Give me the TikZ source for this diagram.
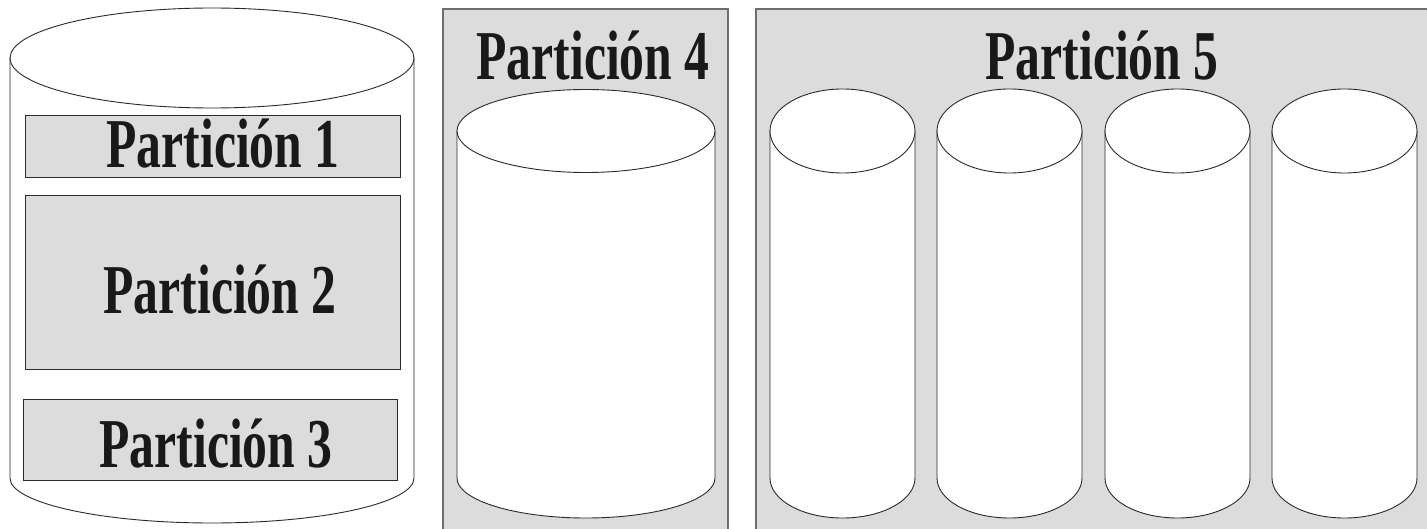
\documentclass[tikz,border=0pt]{standalone}
\usepackage{fontspec}
\newfontfamily\condfont[FakeStretch=0.71]{Liberation Serif}
\definecolor{panelgray}{HTML}{DCDCDC}
\definecolor{edgegray}{HTML}{6E6E6E}
\definecolor{inkline}{HTML}{2A2A2A}
\tikzset{
  panel/.style={fill=panelgray,draw=edgegray,line width=1.5pt},
  partbox/.style={fill=panelgray,draw=inkline,line width=0.9pt},
  cylline/.style={draw=inkline,line width=0.9pt,fill=white},
  lbl/.style={anchor=base,inner sep=0pt,text=black!90,font=\condfont\bfseries\fontsize{70}{70}\selectfont}
}
\newcommand\mycyl[6]{%
  \path[cylline] (#1-#2,#3) -- (#1-#2,#5) arc[start angle=180,end angle=0,x radius=#2,y radius=#6] -- (#1+#2,#3) -- cycle;
  \path[cylline] (#1,#3) ellipse[x radius=#2,y radius=#4];
}
\begin{document}
\begin{tikzpicture}[x=1pt,y=1pt,yscale=-1]
\useasboundingbox (0,0) rectangle (1427,529);
\clip (0,0) rectangle (1427,529);
\fill[white] (0,0) rectangle (1427,529);
% panels
\path[panel] (443,9) rectangle (728,545);
\path[panel] (756,9) rectangle (1445,545);
% left cylinder
\mycyl{212}{202}{58}{50}{478}{45}
\path[partbox] (25,115) rectangle (400,177);
\path[partbox] (25,195) rectangle (400,369);
\path[partbox] (23,399) rectangle (397,480);
% partition 4 cylinder
\mycyl{586}{129}{131}{41.5}{478}{40}
% partition 5 cylinders
\mycyl{842.5}{72.5}{131}{42}{478}{40}
\mycyl{1009.5}{72.5}{131}{42}{478}{40}
\mycyl{1177.5}{72.5}{131}{42}{478}{40}
\mycyl{1344.5}{72.5}{131}{42}{478}{40}
% labels
\node[lbl] (p1) at (223,168) {Partición 1};
\node[lbl] (p2) at (220,313) {Partición 2};
\node[lbl] (p3) at (216,467) {Partición 3};
\node[lbl] (p4) at (593,80) {Partición 4};
\node[lbl] (p5) at (1102,80) {Partición 5};
\end{tikzpicture}
\end{document}
